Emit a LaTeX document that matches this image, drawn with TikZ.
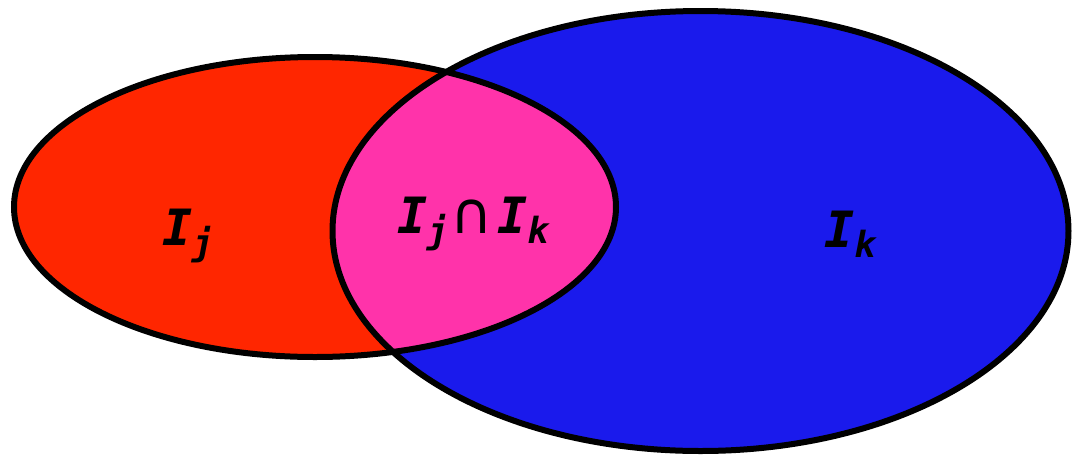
\documentclass[tikz,border=0pt]{standalone}
\usepackage{fontspec}
\newfontfamily\labfont{DejaVu Sans Mono}
\newfontfamily\symfont{DejaVu Sans}
\definecolor{setred}{RGB}{255,38,0}
\definecolor{setblue}{RGB}{26,26,236}
\definecolor{setpink}{RGB}{255,51,170}
\tikzset{
  outline/.style={draw=black,line width=6pt},
  lab/.style={font=\labfont\bfseries\itshape\fontsize{50}{50}\selectfont,inner sep=0pt}
}
\newcommand{\subl}[1]{\raisebox{-10pt}{\fontsize{36}{36}\selectfont #1}}
\begin{document}
\begin{tikzpicture}[x=1pt,y=-1pt]
\useasboundingbox (0,0) rectangle (1072,456);
\fill[setred] (315,207) ellipse [x radius=301, y radius=150];
\fill[setblue] (700.5,231) ellipse [x radius=368, y radius=220];
\begin{scope}
  \clip (315,207) ellipse [x radius=301, y radius=150];
  \fill[setpink] (700.5,231) ellipse [x radius=368, y radius=220];
\end{scope}
\draw[outline] (315,207) ellipse [x radius=301, y radius=150];
\draw[outline] (700.5,231) ellipse [x radius=368, y radius=220];
\node[lab] (lj) at (188,236) {I\subl{j}};
\node[lab] (lk) at (850,234) {I\subl{k}};
\node[lab] (ljk) at (473,224) {I\subl{j}\hspace{2pt}{\symfont\mdseries\upshape\fontsize{58}{58}\selectfont ∩}\hspace{4pt}I\subl{k}};
\end{tikzpicture}
\end{document}
